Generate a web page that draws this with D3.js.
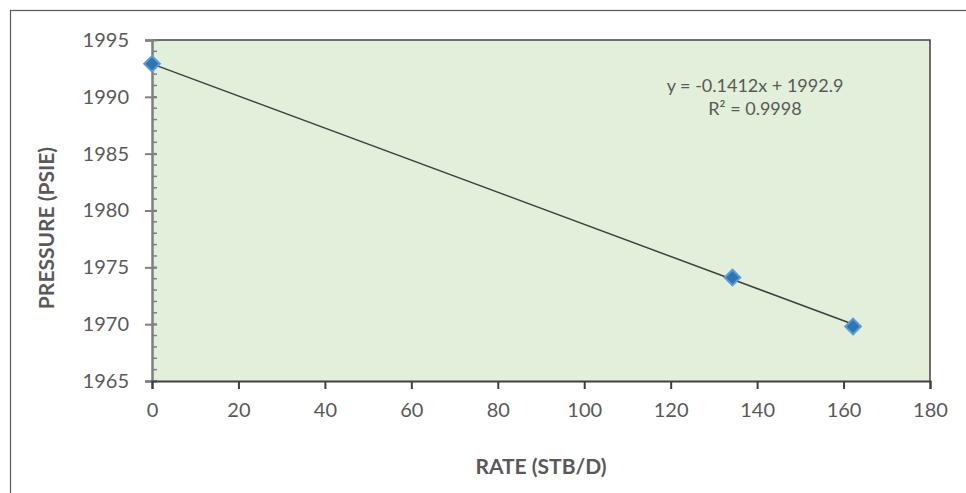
<!DOCTYPE html>
<html><head><meta charset="utf-8">
<script src="https://cdn.jsdelivr.net/npm/d3@7"></script>
<style>
html,body{margin:0;padding:0;background:#fff;}
svg{display:block;}
text{font-family:Lato,"Open Sans",sans-serif;fill:#595959;}
</style></head>
<body>
<svg id="c" width="966" height="493"></svg>
<script>
const rates = [0, 134.3, 162.2];
const pressures = [1992.9, 1974.1, 1969.8];
const xTicks = [0, 20, 40, 60, 80, 100, 120, 140, 160, 180];
const yTicks = [1965, 1970, 1975, 1980, 1985, 1990, 1995];
const trendCoef = [-0.1412, 1992.9];
const eqLabels = ["y = -0.1412x + 1992.9", "R² = 0.9998"];
const xTitle = "RATE (STB/D)";
const yTitle = "PRESSURE (PSIE)";

const svg = d3.select("#c");
const L = 152, R = 930, T = 40, B = 381;
const x = d3.scaleLinear().domain([0, 180]).range([L, R]);
const y = d3.scaleLinear().domain([1965, 1995]).range([B, T]);

// outer frame
svg.append("rect").attr("x", 10.5).attr("y", 10.5).attr("width", 1000).attr("height", 1000)
  .attr("fill", "none").attr("stroke", "#595959").attr("stroke-width", 1.2);

// plot area
svg.append("rect").attr("x", L).attr("y", T).attr("width", R - L).attr("height", B - T)
  .attr("fill", "#E2EFDA");
svg.append("path").attr("d", `M${L},${T}H${R}V${B}`).attr("fill", "none")
  .attr("stroke", "#404040").attr("stroke-width", 1.5);

// y minor ticks
const yMinor = d3.range(1965, 1996, 1);
svg.append("g").selectAll("line").data(yMinor).join("line")
  .attr("x1", L).attr("x2", L + 5).attr("y1", d => y(d)).attr("y2", d => y(d))
  .attr("stroke", "#7f7f7f").attr("stroke-width", 1.5);

// y axis
const gy = svg.append("g").attr("transform", `translate(${L},0)`)
  .call(d3.axisLeft(y).tickValues(yTicks).tickSize(7).tickPadding(16).tickFormat(d3.format("d")));
gy.select(".domain").attr("stroke", "#7f7f7f").attr("stroke-width", 2.5);
gy.selectAll(".tick line").attr("stroke", "#7f7f7f").attr("stroke-width", 2).attr("x2", -7).attr("x1", 5);
gy.selectAll(".tick text").attr("font-size", 20).attr("fill", "#595959").attr("font-family", "Lato");

// x axis
const gx = svg.append("g").attr("transform", `translate(0,${B})`)
  .call(d3.axisBottom(x).tickValues(xTicks).tickSize(8).tickPadding(14));
gx.select(".domain").attr("stroke", "#404040").attr("stroke-width", 2);
gx.selectAll(".tick line").attr("stroke", "#404040").attr("stroke-width", 2);
gx.selectAll(".tick text").attr("font-size", 20).attr("fill", "#595959").attr("font-family", "Lato");

// trendline
const x0 = d3.min(rates), x1 = d3.max(rates);
svg.append("line")
  .attr("x1", x(x0)).attr("y1", y(trendCoef[0] * x0 + trendCoef[1]))
  .attr("x2", x(x1)).attr("y2", y(trendCoef[0] * x1 + trendCoef[1]))
  .attr("stroke", "#404040").attr("stroke-width", 1.5);

// markers
const pts = rates.map((r, i) => [r, pressures[i]]);
svg.append("g").selectAll("path").data(pts).join("path")
  .attr("transform", d => `translate(${x(d[0])},${y(d[1])}) rotate(45)`)
  .attr("d", "M-5.5,-5.5H5.5V5.5H-5.5Z")
  .attr("fill", "#2E75B6").attr("stroke", "#5B9BD5").attr("stroke-width", 2);

// equation
svg.append("text").attr("x", 755).attr("y", 92).attr("text-anchor", "middle")
  .attr("font-size", 18).text(eqLabels[0]);
svg.append("text").attr("x", 755).attr("y", 115).attr("text-anchor", "middle")
  .attr("font-size", 18).text(eqLabels[1]);

// titles
svg.append("text").attr("x", (L + R) / 2).attr("y", 474).attr("text-anchor", "middle")
  .attr("font-size", 21).attr("font-weight", "bold").text(xTitle);
svg.append("text").attr("transform", `translate(54,228) rotate(-90)`)
  .attr("text-anchor", "middle").attr("font-size", 21).attr("font-weight", "bold").text(yTitle);
</script>
</body></html>
